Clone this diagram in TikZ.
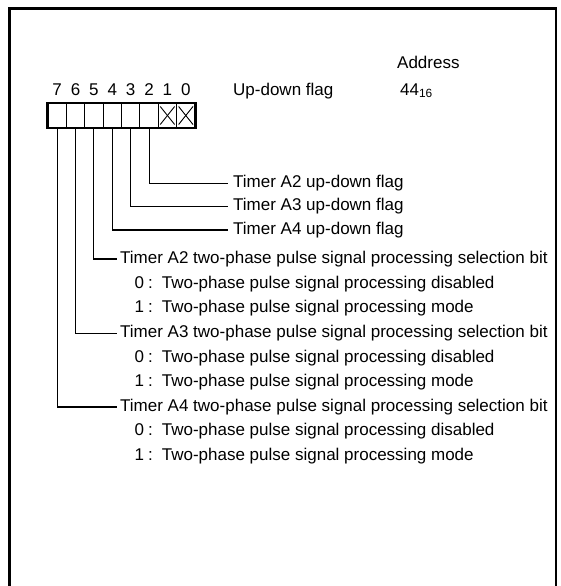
\documentclass[tikz,border=0pt]{standalone}
\usepackage{fontspec}
\setmainfont{Liberation Sans}
\begin{document}
\begin{tikzpicture}[x=1pt,y=-1pt,
  font=\fontsize{17}{20}\selectfont,
  cell/.style={draw,line width=1pt,minimum width=18.375pt,minimum height=24pt,inner sep=0pt},
  digit/.style={inner sep=0pt,anchor=base},
  lab/.style={anchor=west,inner xsep=5pt,inner ysep=0pt},
  plab/.style={anchor=west,inner xsep=3pt,inner ysep=0pt},
  opt/.style={anchor=west,inner sep=0pt},
  conn/.style={line width=1.1pt}]
\useasboundingbox (0,0) rectangle (561,586);
\draw[line width=2.6pt] (9.5,586) -- (9.5,8.5) -- (556,8.5) -- (556,586);
% register cells
\foreach \b [count=\i from 0] in {7,6,5,4,3,2,1,0}{
  \node[cell] (c\b) at ({48+(\i+0.5)*18.375},115.5) {};
  \node[digit] (d\b) at ({48+(\i+0.5)*18.375},95) {\b};
}
\draw[line width=2.6pt] (c7.north west) rectangle (c0.south east);
\foreach \b in {1,0}{
  \draw[line width=0.9pt] ([shift={(2.5,3.5)}]c\b.north west) -- ([shift={(-2.5,-3.5)}]c\b.south east);
  \draw[line width=0.9pt] ([shift={(2.5,-3.5)}]c\b.south west) -- ([shift={(-2.5,3.5)}]c\b.north east);
}
% header texts
\node[digit,anchor=base west] (addr) at (397,69) {Address};
\node[digit,anchor=base west] (name) at (233,95) {Up-down flag};
\node[digit,anchor=base west] (val) at (400,95) {44\textsubscript{16}};
% labels
\node[lab] (t2) at (228,183.5) {Timer A2 up-down flag};
\node[lab] (t3) at (228,206.5) {Timer A3 up-down flag};
\node[lab] (t4) at (228,230) {Timer A4 up-down flag};
\node[plab] (p5) at (117,259) {Timer A2 two-phase pulse signal processing selection bit};
\node[opt] (p5a) at (134.5,284) {0\hspace{4pt}:\hspace{9pt}Two-phase pulse signal processing disabled};
\node[opt] (p5b) at (134.5,308.5) {1\hspace{4pt}:\hspace{9pt}Two-phase pulse signal processing mode};
\node[plab] (p6) at (117,333.5) {Timer A3 two-phase pulse signal processing selection bit};
\node[opt] (p6a) at (134.5,358) {0\hspace{4pt}:\hspace{9pt}Two-phase pulse signal processing disabled};
\node[opt] (p6b) at (134.5,382.5) {1\hspace{4pt}:\hspace{9pt}Two-phase pulse signal processing mode};
\node[plab] (p7) at (117,407) {Timer A4 two-phase pulse signal processing selection bit};
\node[opt] (p7a) at (134.5,431.5) {0\hspace{4pt}:\hspace{9pt}Two-phase pulse signal processing disabled};
\node[opt] (p7b) at (134.5,456) {1\hspace{4pt}:\hspace{9pt}Two-phase pulse signal processing mode};
% connectors
\draw[conn] (c2.south) |- (t2.west);
\draw[conn] (c3.south) |- (t3.west);
\draw[conn] (c4.south) |- (t4.west);
\draw[conn] (c5.south) |- (p5.west);
\draw[conn] (c6.south) |- (p6.west);
\draw[conn] (c7.south) |- (p7.west);
\end{tikzpicture}
\end{document}
